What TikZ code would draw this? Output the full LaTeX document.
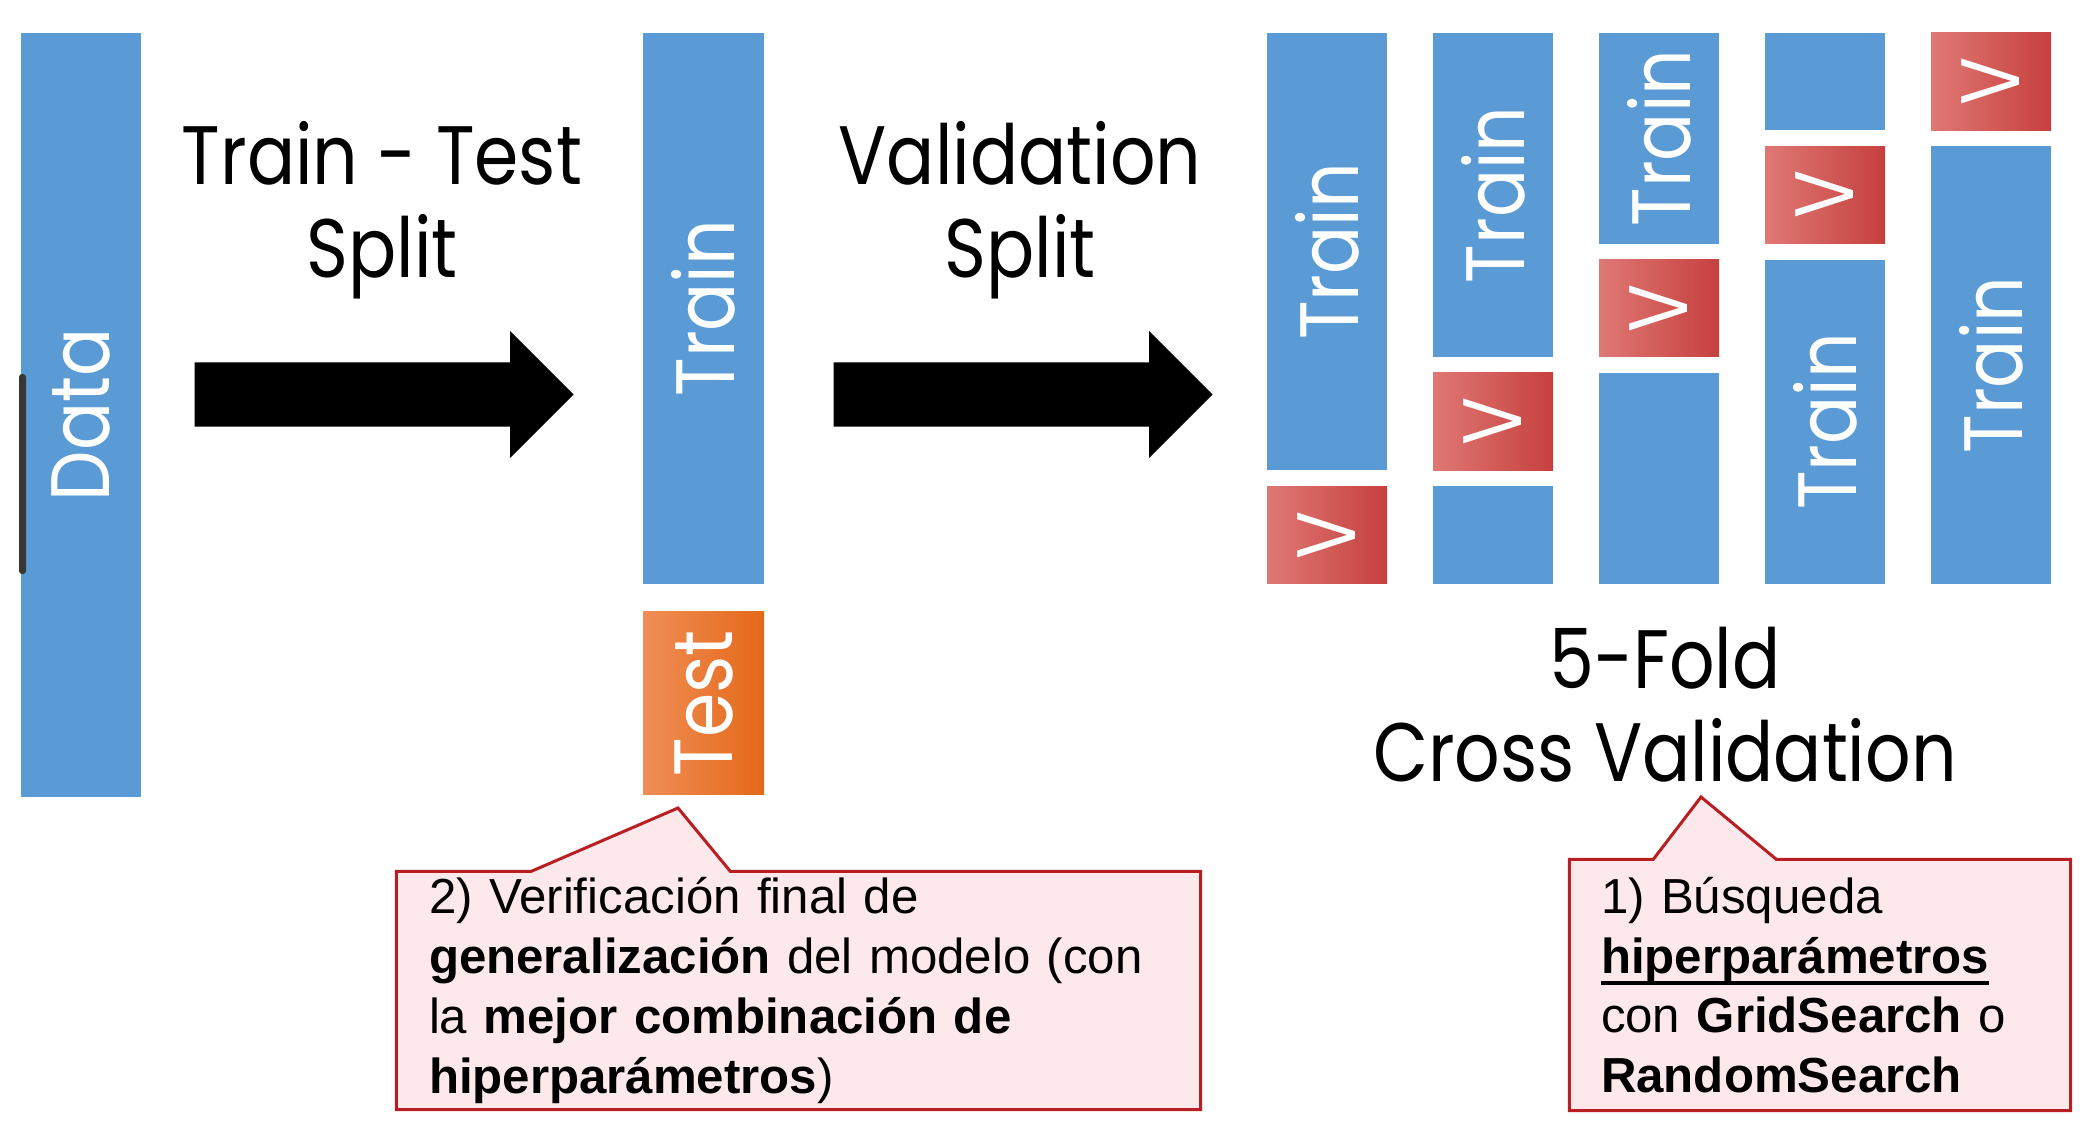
\documentclass[tikz,border=0pt]{standalone}
\usepackage{fontspec}
\setmainfont{Liberation Sans}
\newfontfamily\gothic[FakeStretch=0.86]{Poppins}
\usepackage{xcolor}
\usetikzlibrary{shapes.arrows,backgrounds,calc}

\definecolor{barblue}{RGB}{91,155,213}
\definecolor{valL}{RGB}{223,120,116}
\definecolor{valM}{RGB}{219,82,79}
\definecolor{valR}{RGB}{198,64,62}
\definecolor{tstL}{RGB}{240,142,85}
\definecolor{tstM}{RGB}{240,122,40}
\definecolor{tstR}{RGB}{228,104,25}
\definecolor{notefill}{RGB}{253,232,236}
\definecolor{noteline}{RGB}{185,30,35}
\definecolor{gripgray}{RGB}{55,55,55}

% bold word with a heavy underline
\newcommand{\ulbold}[1]{\leavevmode\vtop{\hbox{\textbf{#1}}\kern-0.6pt\hrule height 1pt}}

\begin{document}
\begin{tikzpicture}[
  bar/.style={fill=barblue, minimum width=1.2cm, inner sep=0pt, anchor=north},
  valbox/.style={left color=valL, middle color=valM, right color=valR, minimum width=1.2cm, minimum height=0.974cm, inner sep=0pt, anchor=north},
  testbox/.style={left color=tstL, middle color=tstM, right color=tstR, minimum width=1.21cm, inner sep=0pt, anchor=north},
  lbl/.style={rotate=90, text=white, inner sep=0pt, font=\gothic\fontsize{23.6pt}{26pt}\selectfont},
  title/.style={align=center, inner sep=0pt, font=\gothic\fontsize{23.6pt}{26.5pt}\selectfont},
  bigarrow/.style={single arrow, fill=black, anchor=tail, minimum height=3.79cm, inner xsep=0pt, inner ysep=0.315cm, single arrow head extend=0.315cm, single arrow tip angle=90},
  note/.style={inner ysep=0pt, align=left, font=\fontsize{14pt}{17pt}\selectfont},
  callout/.style={draw=noteline, fill=notefill, line width=0.03cm}
]
\useasboundingbox (0,0) rectangle (20.88,-11.35);

% data, train / test
\node[bar, minimum height=7.64cm] (data) at (0.81,-0.32) {};
\node[lbl] (dataTxt) at (data) {Data};
\node[fill=gripgray, minimum width=0.07cm, minimum height=2cm, inner sep=0pt, rounded corners=0.03cm] (grip) at (0.225,-4.74) {};
\node[bar, minimum width=1.21cm, minimum height=5.51cm] (train) at (7.035,-0.32) {};
\node[lbl] (trainTxt) at (train) {Train};
\node[testbox, minimum height=1.83cm] (test) at (7.035,-6.11) {};
\node[lbl] (testTxt) at (test) {Test};

% split arrows
\node[bigarrow] (split1) at (1.94,-3.945) {};
\node[bigarrow] (split2) at (8.33,-3.945) {};
\node[title] (ttl1) at (3.82,-2.1) {Train - Test\\Split};
\node[title] (ttl2) at (10.2,-2.1) {Validation\\Split};

% 5 folds
\node[bar, minimum height=4.376cm] (f1t) at (13.27,-0.32) {};
\node[valbox] (f1v) at (13.27,-4.856) {};
\node[bar, minimum height=3.242cm] (f2t) at (14.93,-0.32) {};
\node[valbox] (f2v) at (14.93,-3.722) {};
\node[bar, minimum height=0.974cm] (f2b) at (14.93,-4.856) {};
\node[bar, minimum height=2.108cm] (f3t) at (16.59,-0.32) {};
\node[valbox] (f3v) at (16.59,-2.588) {};
\node[bar, minimum height=2.108cm] (f3b) at (16.59,-3.722) {};
\node[bar, minimum height=0.974cm] (f4b) at (18.25,-0.32) {};
\node[valbox] (f4v) at (18.25,-1.454) {};
\node[bar, minimum height=3.242cm] (f4t) at (18.25,-2.588) {};
\node[valbox] (f5v) at (19.91,-0.32) {};
\node[bar, minimum height=4.376cm] (f5t) at (19.91,-1.454) {};

\foreach \f in {f1t,f2t,f3t,f4t,f5t}
  \node[lbl] (\f Txt) at (\f) {Train};
\foreach \f in {f1v,f2v,f3v,f4v,f5v}
  \node[lbl] (\f Txt) at (\f) {V};

\node[title] (ttl3) at (16.65,-7.05) {5-Fold\\Cross Validation};

% notes
\node[note, text width=7.39cm, inner xsep=0.32cm, minimum height=2.37cm] (note2) at (7.985,-9.905)
  {2) Verificación final de\\\textbf{generalización} del modelo (con\\la \textbf{mejor combinación de}\\\textbf{hiperparámetros})};
\node[note, text width=4.38cm, inner xsep=0.31cm, minimum height=2.5cm] (note1) at (18.2,-9.85)
  {1) Búsqueda\\\ulbold{hiperparámetros}\\con \textbf{GridSearch} o\\\textbf{RandomSearch}};
\coordinate (tip2) at (6.78,-8.08);
\coordinate (tip1) at (17.01,-7.97);

\begin{scope}[on background layer]
\draw[callout] (note2.north west) -- ($(note2.north west)+(1.35,0)$) -- (tip2) -- ($(note2.north west)+(3.34,0)$)
  -- (note2.north east) -- (note2.south east) -- (note2.south west) -- cycle;
\draw[callout] (note1.north west) -- ($(note1.north west)+(0.84,0)$) -- (tip1) -- ($(note1.north west)+(2.07,0)$)
  -- (note1.north east) -- (note1.south east) -- (note1.south west) -- cycle;
\end{scope}
\end{tikzpicture}
\end{document}
